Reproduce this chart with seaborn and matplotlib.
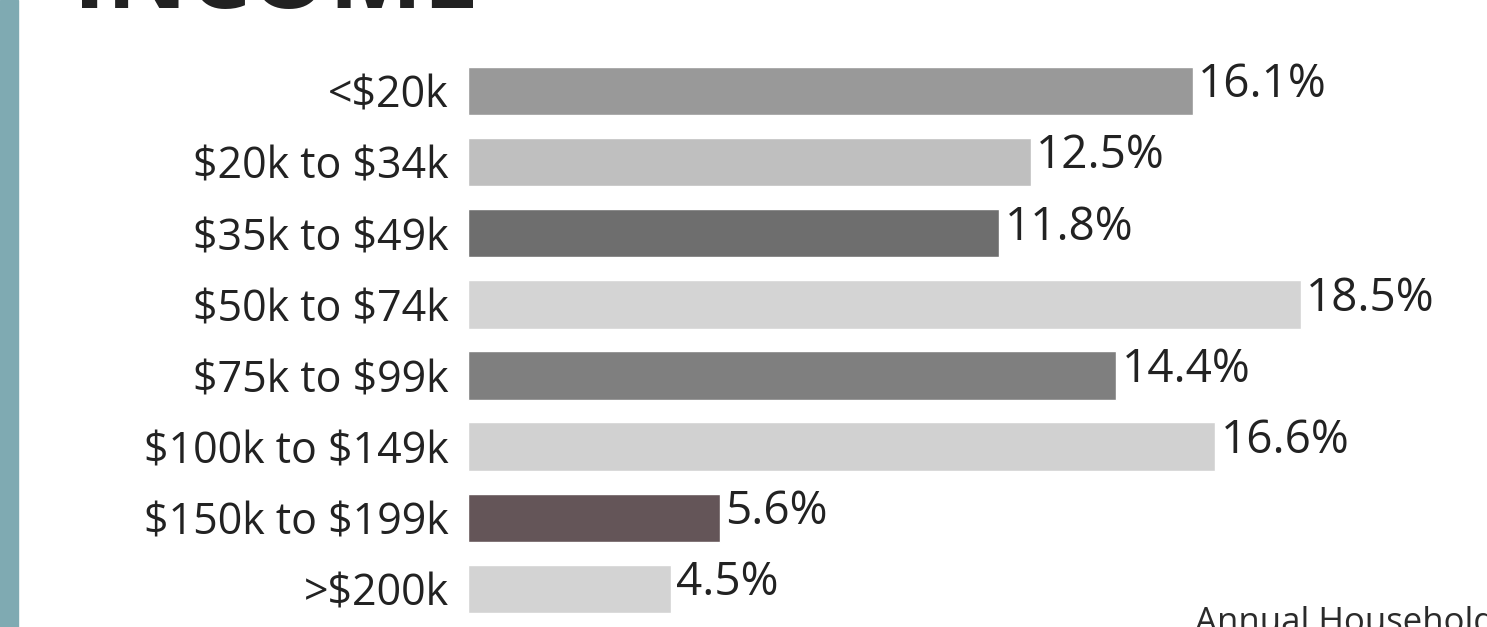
import matplotlib
matplotlib.use("Agg")
import matplotlib.pyplot as plt
import seaborn as sns
import pandas as pd
from matplotlib.patches import Rectangle

# datos
categorias = ["<$20k", "$20k to $34k", "$35k to $49k", "$50k to $74k",
              "$75k to $99k", "$100k to $149k", "$150k to $199k", ">$200k"]
porcentajes = [16.1, 12.5, 11.8, 18.5, 14.4, 16.6, 5.6, 4.5]
colores = ["#999999", "#bfbfbf", "#6e6e6e", "#d4d4d4",
           "#7f7f7f", "#d1d1d1", "#645558", "#d3d3d3"]

df = pd.DataFrame({"categoria": categorias, "pct": porcentajes})

sns.set_theme(style="white")
plt.rcParams["font.family"] = ["Open Sans", "DejaVu Sans"]
plt.rcParams["text.parse_math"] = False  # los $ son texto normal

fig = plt.figure(figsize=(14.87, 6.27), dpi=100)
fig.patch.set_facecolor("white")

# franja lateral
fig.patches.append(Rectangle((0, 0), 18 / 1487, 1, transform=fig.transFigure,
                             color="#7faab2", zorder=0))

ax = fig.add_axes([468 / 1487, 0.004, 990 / 1487, 0.9075])
sns.barplot(data=df, x="pct", y="categoria", hue="categoria", palette=colores,
            legend=False, width=0.68, ax=ax, saturation=1)

ax.set_xlim(0, 22)
ax.set_ylim(7.5, -0.5)
ax.set_xlabel("")
ax.set_ylabel("")
ax.set_xticks([])
sns.despine(ax=ax, left=True, bottom=True)
ax.tick_params(axis="y", length=0, pad=14, labelsize=31, labelcolor="#222222")
ax.set_facecolor("none")

for i, v in enumerate(porcentajes):
    ax.text(v + 0.12, i - 0.08, f"{v}%", va="center", ha="left",
            fontsize=33, color="#222222")

# titulo recortado arriba
fig.text(73 / 1487, 1 - 8 / 627, "INCOME", fontsize=72, fontweight="bold",
         color="#222222", ha="left", va="baseline")

# texto recortado abajo
fig.text(1195 / 1487, 1 - 606 / 627, "Annual Household Income", fontsize=25,
         color="#2b2b2b", ha="left", va="top")

fig.savefig("out.png", dpi=100, facecolor="white")
